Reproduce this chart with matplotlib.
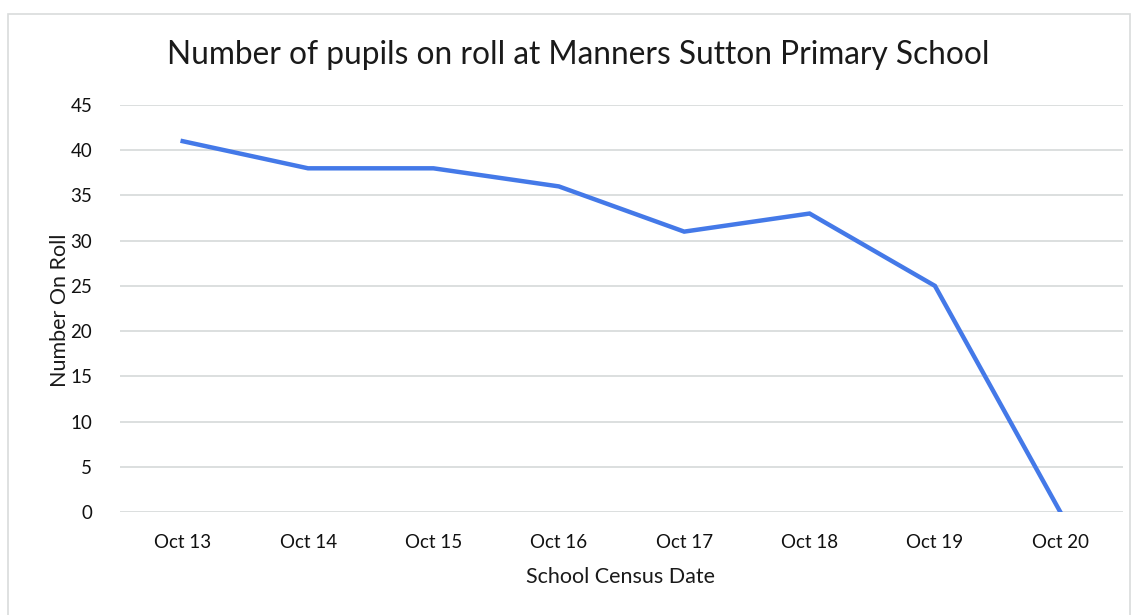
import matplotlib
matplotlib.use("Agg")
import matplotlib.pyplot as plt
from matplotlib.patches import Rectangle

categories = ["Oct 13", "Oct 14", "Oct 15", "Oct 16", "Oct 17", "Oct 18", "Oct 19", "Oct 20"]
pupils = [41, 38, 38, 36, 31, 33, 25, 0]
yticks = [0, 5, 10, 15, 20, 25, 30, 35, 40, 45]

plt.rcParams['font.family'] = ['Lato', 'DejaVu Sans']

W, H = 1138, 615
fig = plt.figure(figsize=(W / 100, H / 100), dpi=100)
fig.patch.set_facecolor('white')
fig.patches.append(Rectangle((8 / W, -0.1), (1130 - 8) / W, (H - 14) / H + 0.1,
                             transform=fig.transFigure, fill=False,
                             edgecolor='#d9dcdc', linewidth=1.2))

ax = fig.add_axes([120 / W, (H - 512) / H, (1123 - 120) / W, (512 - 105) / H])
x = list(range(len(categories)))
ax.plot(x, pupils, color='#4479E8', linewidth=3.2, solid_joinstyle='miter')
ax.set_xlim(-0.5, len(categories) - 0.5)
ax.set_ylim(0, 45)
ax.set_yticks(yticks)
ax.set_xticks(x)
ax.set_xticklabels(categories)
ax.grid(axis='y', color='#d9dcdc', linewidth=1.3)
ax.set_axisbelow(True)
for s in ax.spines.values():
    s.set_visible(False)
ax.tick_params(axis='both', length=0, labelsize=13.5, colors='#111111')
ax.tick_params(axis='y', pad=20)
ax.tick_params(axis='x', pad=16)

fig.text(578 / W, 1 - 55 / H, "Number of pupils on roll at Manners Sutton Primary School",
         ha='center', va='center', fontsize=22.8, color='#1a1a1a')
fig.text(621 / W, 1 - 577 / H, "School Census Date", ha='center', va='center',
         fontsize=15.5, color='#1a1a1a')
fig.text(60 / W, 1 - 310 / H, "Number On Roll", ha='center', va='center',
         rotation=90, fontsize=15.5, color='#1a1a1a')

fig.savefig("out.png", dpi=100)
